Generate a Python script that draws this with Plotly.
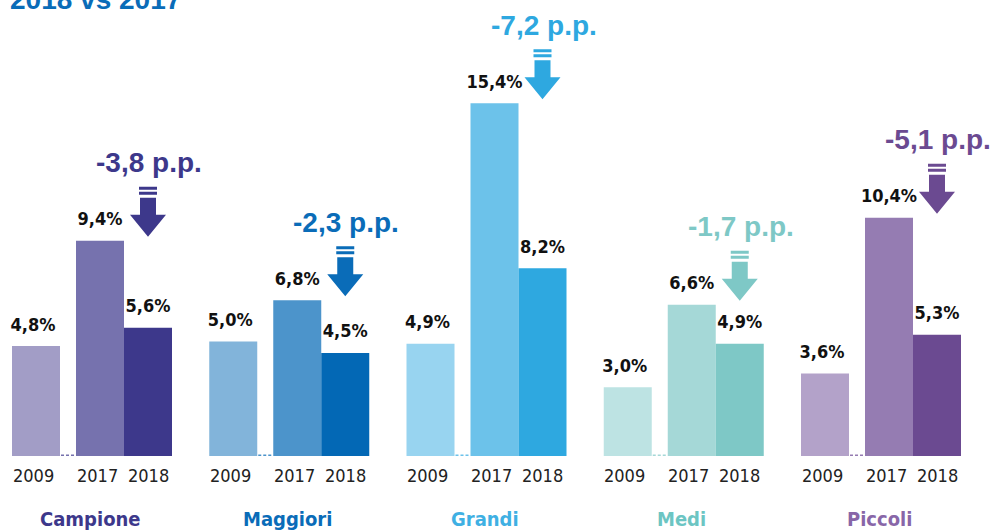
import plotly.graph_objects as go

# ---- data ----
groups = ["Campione", "Maggiori", "Grandi", "Medi", "Piccoli"]
years = ["2009", "2017", "2018"]
v2009 = [4.8, 5.0, 4.9, 3.0, 3.6]
v2017 = [9.4, 6.8, 15.4, 6.6, 10.4]
v2018 = [5.6, 4.5, 8.2, 4.9, 5.3]
deltas = ["-3,8 p.p.", "-2,3 p.p.", "-7,2 p.p.", "-1,7 p.p.", "-5,1 p.p."]
title_text = "2018 vs 2017"

# ---- styles ----
bar_colors = [
    ["#a29dc6", "#7672ae", "#3d388b"],
    ["#82b4da", "#4c94cb", "#0368b5"],
    ["#98d4f0", "#6cc2ea", "#2ea8e0"],
    ["#bde3e3", "#a5d8d7", "#7ec8c6"],
    ["#b3a2c9", "#957cb2", "#6b4a91"],
]
accent = ["#3d388b", "#0a6cb8", "#2ea8e0", "#7ec8c6", "#6b4a91"]
group_label_colors = ["#3d388b", "#0a6cb8", "#3fb0e3", "#6cc5c3", "#8866a8"]

W, H = 993, 531
BASE = 456.0      # pixel row of zero
SCALE = 22.9      # pixels per percentage point
NARROW = "Liberation Sans Narrow, Arial Narrow, DejaVu Sans Condensed, sans-serif"
BOLD = "Liberation Sans, Arial, sans-serif"


def py(pix):
    """pixel row -> data y"""
    return (BASE - pix) / SCALE


def fmt(v):
    return f"{v:.1f}".replace(".", ",") + "%"


fig = go.Figure()
annotations = []
shapes = []

for i, g in enumerate(groups):
    start = 12 + i * 197.25
    xs = [start + 24, start + 88, start + 136]
    vals = [v2009[i], v2017[i], v2018[i]]
    fig.add_trace(go.Bar(
        x=xs, y=vals, width=48,
        marker=dict(color=bar_colors[i], line=dict(width=0)),
        showlegend=False, hoverinfo="skip",
    ))
    # value labels
    fig.add_trace(go.Scatter(
        x=[xs[0] - 3, xs[1], xs[2]],
        y=[v + 20 / SCALE for v in vals],
        mode="text", text=[fmt(v) for v in vals],
        textposition="middle center",
        textfont=dict(family=NARROW, size=18, color="#111111", weight="bold"),
        showlegend=False, hoverinfo="skip", cliponaxis=False,
    ))
    # dashed connector between 2009 and 2017
    shapes.append(dict(type="line", xref="x", yref="y",
                       x0=xs[0] + 25, x1=xs[1] - 25, y0=0.03, y1=0.03,
                       line=dict(color=bar_colors[i][1], width=1.5, dash="3px,2px")))
    # year labels
    for k, yr in enumerate(years):
        annotations.append(dict(x=xs[k] - (3 if k < 2 else 0), y=py(475), xref="x", yref="y",
                                text=yr, showarrow=False,
                                font=dict(family=NARROW, size=18, color="#222222")))
    # group label
    annotations.append(dict(x=(xs[0] + xs[2]) / 2 - 2, y=py(519), xref="x", yref="y",
                            text=f"<b>{g}</b>", showarrow=False,
                            font=dict(family=NARROW, size=20, color=group_label_colors[i])))
    # arrow (tip just above the 2017 bar)
    tip = BASE - v2017[i] * SCALE - 4
    cx = xs[2]
    c = accent[i]
    path = (f"M {cx-18},{py(tip-22)} L {cx+18},{py(tip-22)} L {cx},{py(tip)} Z "
            f"M {cx-8},{py(tip-22)} L {cx+8},{py(tip-22)} L {cx+8},{py(tip-39)} L {cx-8},{py(tip-39)} Z "
            f"M {cx-9},{py(tip-42)} L {cx+9},{py(tip-42)} L {cx+9},{py(tip-45)} L {cx-9},{py(tip-45)} Z "
            f"M {cx-9},{py(tip-47)} L {cx+9},{py(tip-47)} L {cx+9},{py(tip-50)} L {cx-9},{py(tip-50)} Z")
    shapes.append(dict(type="path", xref="x", yref="y", path=path,
                       fillcolor=c, line=dict(width=0)))
    annotations.append(dict(x=cx + 1, y=py(tip - 74), xref="x", yref="y",
                            text=f"<b>{deltas[i]}</b>", showarrow=False,
                            font=dict(family=BOLD, size=28, color=c)))

# partially visible title at the very top (only its lower part shows)
annotations.append(dict(x=8, y=py(17), xref="x", yref="y", xanchor="left", yanchor="bottom",
                        text=f"<b>{title_text}</b>", showarrow=False,
                        font=dict(family=BOLD, size=28, color="#0a6cb8")))

fig.update_layout(
    width=W, height=H,
    margin=dict(l=0, r=0, t=0, b=0, pad=0),
    paper_bgcolor="white", plot_bgcolor="white",
    barmode="overlay",
    xaxis=dict(range=[0, W], visible=False, fixedrange=True),
    yaxis=dict(range=[py(H), py(0)], visible=False, fixedrange=True),
    annotations=annotations, shapes=shapes,
    showlegend=False,
)

fig.write_html("out.html", config={"displayModeBar": False},
               post_script="document.body.style.margin='0';document.body.style.overflow='hidden';")
